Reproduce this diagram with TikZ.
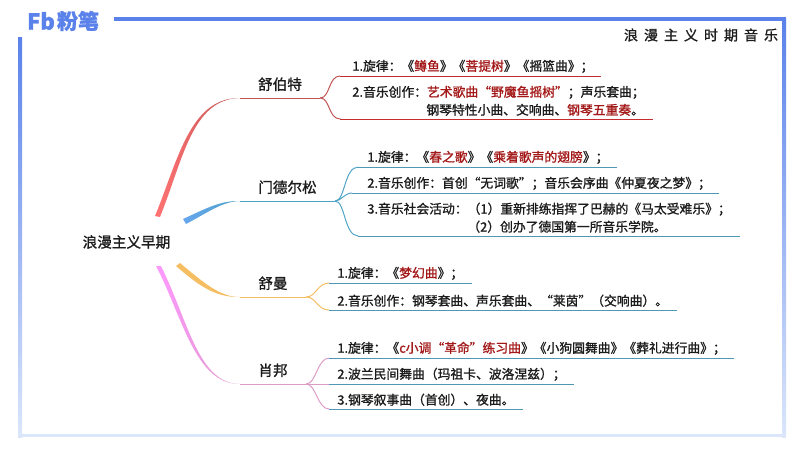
\documentclass[tikz,border=0pt]{standalone}
\usepackage{fontspec}
\setmainfont[FakeBold=1.2]{Noto Sans CJK SC}
\usetikzlibrary{positioning}
\definecolor{frame_blue}{HTML}{5A82EA}
\definecolor{frame_pale}{HTML}{DBE6FB}
\definecolor{ink}{HTML}{1C1C1C}
\definecolor{hot_red}{HTML}{A31818}
\definecolor{under_red}{HTML}{C42C30}
\definecolor{under_teal}{HTML}{4F97B2}
\definecolor{line_red}{HTML}{C25656}
\definecolor{line_blue}{HTML}{4FA3C7}
\definecolor{line_yellow}{HTML}{F5BE63}
\definecolor{line_pink}{HTML}{DB9CC6}
\definecolor{start_blue}{HTML}{66A6EE}
\newcommand{\hot}[1]{\textcolor{hot_red}{#1}}
\tikzstyle{root_node} = [text=ink, font=\fontsize{14.6}{18}\selectfont, inner sep=0pt]
\tikzstyle{composer} = [anchor=south, text=ink, inner sep=0pt, font=\fontsize{14.6}{18}\selectfont, text depth=8pt, align=center]
\tikzstyle{item} = [anchor=south west, text=ink, inner xsep=0pt, inner ysep=3pt, align=left, font=\fontsize{12.8}{18}\selectfont]
\tikzstyle{under} = [line width=1pt, draw=under_teal]
\tikzstyle{twig} = [line width=1pt]

\begin{document}
\begin{tikzpicture}[x=1pt, y=-1pt]
        \useasboundingbox (0,0) rectangle (800,450);

        % frame
        \fill[frame_blue] (114,17) rectangle (786,20.5);
        \shade[top color=frame_blue, bottom color=frame_pale] (18,37) rectangle (22,437);
        \shade[top color=frame_blue, bottom color=frame_pale] (782,18) rectangle (786,437);
        \fill[frame_pale] (18,433.5) rectangle (786,437);

        % logo and title
        \node(logo_fb) [text=frame_blue, font=\fontsize{22}{22}\selectfont\bfseries, inner sep=0pt] at (41,21) {Fb};
        \node(logo_cn) [text=frame_blue, font=\fontsize{21}{22}\selectfont\bfseries, inner sep=0pt] at (78,21) {粉笔};
        \node(title) [text=ink, font=\fontsize{14}{16}\selectfont, inner sep=0pt] at (701,35) {浪\hspace{6pt}漫\hspace{6pt}主\hspace{6pt}义\hspace{6pt}时\hspace{6pt}期\hspace{6pt}音\hspace{6pt}乐};

        \node(root) [root_node] at (126.5,242) {浪漫主义早期};

        \node(schubert) [composer, minimum width=80pt] at (280,98) {舒伯特};
        \node(mendelssohn) [composer, minimum width=95pt] at (287.5,201) {门德尔松};
        \node(schumann) [composer, minimum width=66pt] at (273,297) {舒曼};
        \node(chopin) [composer, minimum width=66pt] at (273,384) {肖邦};

        \node(schubert1) [above right=22pt and 20pt of schubert.south east, item, text width=260pt] {\hspace*{12pt}1.旋律：《\hot{鳟鱼}》《\hot{菩提树}》《摇篮曲》；};
        \node(schubert2) [below right=21pt and 20pt of schubert.south east, item, text width=312pt] {\hspace*{12pt}2.音乐创作：\hot{艺术歌曲“野魔鱼摇树”}；声乐套曲；\\\hspace*{86pt}钢琴特性小曲、交响曲、\hot{钢琴五重奏}。};

        \node(mendelssohn1) [above right=34pt and 23pt of mendelssohn.south east, item, text width=258pt] {\hspace*{9pt}1.旋律：《\hot{春之歌}》《\hot{乘着歌声的翅膀}》；};
        \node(mendelssohn2) [above right=8pt and 17pt of mendelssohn.south east, item, text width=366pt] {\hspace*{15pt}2.音乐创作：首创“无词歌”；音乐会序曲《仲夏夜之梦》；};
        \node(mendelssohn3) [below right=35pt and 23pt of mendelssohn.south east, item, text width=381pt] {\hspace*{9pt}3.音乐社会活动：（1）重新排练指挥了巴赫的《马太受难乐》；\\\hspace*{109pt}（2）创办了德国第一所音乐学院。};

        \node(schumann1) [above right=14pt and 23pt of schumann.south east, item, text width=142pt] {\hspace*{8pt}1.旋律：《\hot{梦幻曲}》；};
        \node(schumann2) [below right=13pt and 23pt of schumann.south east, item, text width=347pt] {\hspace*{8pt}2.音乐创作：钢琴套曲、声乐套曲、“莱茵”（交响曲）。};

        \node(chopin1) [above right=26pt and 23pt of chopin.south east, item, text width=404pt] {\hspace*{8pt}1.旋律：《\hot{c小调“革命”练习曲}》《小狗圆舞曲》《葬礼进行曲》；};
        \node(chopin2) [right=23pt of chopin.south east, item, text width=244pt] {\hspace*{8pt}2.波兰民间舞曲（玛祖卡、波洛涅兹）；};
        \node(chopin3) [below right=25pt and 23pt of chopin.south east, item, text width=193pt] {\hspace*{8pt}3.钢琴叙事曲（首创）、夜曲。};

        % free ends of the main branches
        \coordinate(red_a) at (155,216);
        \coordinate(red_b) at (160,217);
        \coordinate(blue_a) at (183,219);
        \coordinate(blue_b) at (186,224);
        \coordinate(yellow_a) at (180,263);
        \coordinate(yellow_b) at (176,266);
        \coordinate(pink_a) at (156,266);
        \coordinate(pink_b) at (161,266);

        \shade[left color=red!55!white, right color=line_red] (red_a) .. controls (178,160) and (190,97.5) .. (schubert.south west) .. controls (192,99) and (183,160) .. (red_b) -- cycle;
        \shade[left color=start_blue, right color=line_blue] (blue_a) .. controls (205,209) and (220,200.5) .. (mendelssohn.south west) .. controls (222,201.5) and (207,213) .. (blue_b) -- cycle;
        \fill[line_yellow] (yellow_a) .. controls (204,283) and (220,297) .. (schumann.south west) .. controls (214,297.6) and (197,284) .. (yellow_b) -- cycle;
        \shade[left color=magenta!40!white, right color=line_pink] (pink_a) .. controls (182,315) and (195,384.5) .. (chopin.south west) .. controls (198,383.5) and (188,320) .. (pink_b) -- cycle;

        \draw[twig, line_red] (schubert.south west) -- (schubert.south east);
        \draw[twig, line_red] (schubert.south east) .. controls +(10,0) and +(-12,0) .. (schubert1.south west);
        \draw[twig, line_red] (schubert.south east) .. controls +(10,0) and +(-12,0) .. (schubert2.south west);
        \draw[under, draw=under_red] (schubert1.south west) -- (schubert1.south east);
        \draw[under, draw=under_red] (schubert2.south west) -- (schubert2.south east);

        \draw[twig, line_blue] (mendelssohn.south west) -- (mendelssohn.south east);
        \draw[twig, line_blue] (mendelssohn.south east) .. controls +(10,0) and +(-14,0) .. (mendelssohn1.south west);
        \draw[twig, line_blue] (mendelssohn.south east) .. controls +(6,0) and +(-8,0) .. (mendelssohn2.south west);
        \draw[twig, line_blue] (mendelssohn.south east) .. controls +(10,0) and +(-14,0) .. (mendelssohn3.south west);
        \draw[under] (mendelssohn1.south west) -- (mendelssohn1.south east);
        \draw[under] (mendelssohn2.south west) -- (mendelssohn2.south east);
        \draw[under] (mendelssohn3.south west) -- (mendelssohn3.south east);

        \draw[twig, line_yellow] (schumann.south west) -- (schumann.south east);
        \draw[twig, line_yellow] (schumann.south east) .. controls +(10,0) and +(-12,0) .. (schumann1.south west);
        \draw[twig, line_yellow] (schumann.south east) .. controls +(10,0) and +(-12,0) .. (schumann2.south west);
        \draw[under] (schumann1.south west) -- (schumann1.south east);
        \draw[under] (schumann2.south west) -- (schumann2.south east);

        \draw[twig, line_pink] (chopin.south west) -- (chopin.south east);
        \draw[twig, line_pink] (chopin.south east) .. controls +(10,0) and +(-12,0) .. (chopin1.south west);
        \draw[twig, line_pink] (chopin.south east) -- (chopin2.south west);
        \draw[twig, line_pink] (chopin.south east) .. controls +(10,0) and +(-12,0) .. (chopin3.south west);
        \draw[under] (chopin1.south west) -- (chopin1.south east);
        \draw[under] (chopin2.south west) -- (chopin2.south east);
        \draw[under] (chopin3.south west) -- (chopin3.south east);
    \end{tikzpicture}
\end{document}
